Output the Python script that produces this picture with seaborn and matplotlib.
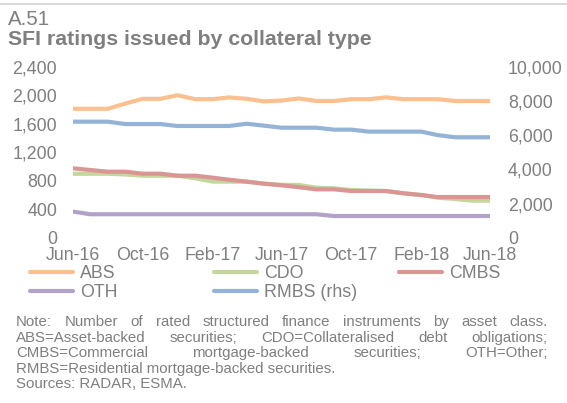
import numpy as np
import pandas as pd
import matplotlib
matplotlib.use("Agg")
import matplotlib.pyplot as plt
from matplotlib.lines import Line2D
import seaborn as sns

# monthly observations, Jun-16 .. Jun-18
months = pd.date_range("2016-06-01", "2018-06-01", freq="MS")

abs_ = [1810, 1810, 1810, 1885, 1950, 1950, 2000, 1945, 1945, 1970, 1950, 1915, 1925,
        1955, 1920, 1920, 1945, 1945, 1970, 1945, 1945, 1945, 1920, 1920, 1920]
cdo = [900, 900, 900, 890, 873, 873, 873, 836, 790, 790, 790, 762, 745,
       743, 705, 696, 672, 665, 658, 626, 602, 565, 546, 523, 523]
cmbs = [976, 953, 929, 929, 901, 901, 873, 873, 845, 817, 789, 761, 738,
        712, 682, 682, 658, 658, 658, 626, 602, 574, 574, 574, 574]
oth = [370, 333, 333, 333, 333, 333, 333, 333, 333, 333, 333, 333, 333,
       333, 333, 308, 308, 308, 308, 308, 308, 308, 308, 308, 308]
rmbs = [6790, 6790, 6790, 6650, 6650, 6650, 6540, 6540, 6540, 6540, 6670, 6560, 6440,
        6440, 6440, 6325, 6325, 6210, 6210, 6210, 6210, 6010, 5880, 5880, 5880]  # rhs

left_ticks = [0, 400, 800, 1200, 1600, 2000, 2400]
right_ticks = [0, 2000, 4000, 6000, 8000, 10000]

colors = {"ABS": "#FAC090", "CDO": "#C3D69B", "CMBS": "#D99694",
          "OTH": "#B3A2C7", "RMBS (rhs)": "#95B3D7"}
grey = "#7f7f7f"

note_lines = [
    ("Note: Number of rated structured finance instruments by asset class.", True),
    ("ABS=Asset-backed securities; CDO=Collateralised debt obligations;", True),
    ("CMBS=Commercial mortgage-backed securities; OTH=Other;", True),
    ("RMBS=Residential mortgage-backed securities.", False),
    ("Sources: RADAR, ESMA.", False),
]

sns.set_theme(style="white")
plt.rcParams["font.family"] = ["Liberation Sans", "DejaVu Sans"]

W, H = 567, 403
fig = plt.figure(figsize=(W / 100, H / 100), dpi=100)
ax = fig.add_axes([73 / W, 1 - 238 / H, (490 - 73) / W, (238 - 66.7) / H])
ax2 = ax.twinx()

line_kw = dict(linewidth=3.0, solid_capstyle="round", solid_joinstyle="round", legend=False)
for name, vals in [("ABS", abs_), ("CDO", cdo), ("CMBS", cmbs), ("OTH", oth)]:
    sns.lineplot(x=months, y=vals, ax=ax, color=colors[name], **line_kw)
sns.lineplot(x=months, y=rmbs, ax=ax2, color=colors["RMBS (rhs)"], **line_kw)

ax.set_ylim(0, 2400)
ax2.set_ylim(0, 10000)
ax.set_yticks(left_ticks, [f"{v:,}" for v in left_ticks])
ax2.set_yticks(right_ticks, [f"{v:,}" for v in right_ticks])
ax.set_xlim(months[0], months[-1])
ax.set_xticks(months[::4], [d.strftime("%b-%y") for d in months[::4]])

for a in (ax, ax2):
    a.set_xlabel("")
    a.set_ylabel("")
    for s in a.spines.values():
        s.set_visible(False)
    a.grid(False)
    a.tick_params(length=0, labelsize=12.8, labelcolor=grey)
ax.tick_params(axis="y", pad=11.5)
ax.tick_params(axis="x", pad=6.3)
ax2.tick_params(axis="y", pad=13)

# legend: three fixed-width columns like the original
def handle(name):
    return Line2D([], [], color=colors[name], linewidth=3.0, solid_capstyle="round")

columns = [(30, ["ABS", "OTH"]), (214, ["CDO", "RMBS (rhs)"]), (399, ["CMBS"])]
for x0, names in columns:
    fig.legend(handles=[handle(n) for n in names], labels=names, loc="upper left",
               bbox_to_anchor=(x0 / W, 1 - 265 / H), frameon=False, fontsize=12.8,
               handlelength=2.42, handletextpad=0.4, labelspacing=0.1,
               borderpad=0, borderaxespad=0, labelcolor=grey)

# header
fig.add_artist(Line2D([0, 1], [1 - 3.7 / H] * 2, transform=fig.transFigure,
                      color="#d9d9d9", linewidth=1.5))
fig.text(8 / W, 1 - 25 / H, "A.51", fontsize=14.8, color=grey, va="baseline")
fig.text(8 / W, 1 - 45 / H, "SFI ratings issued by collateral type", fontsize=15.3,
         fontweight="bold", color=grey, va="baseline")

# note, first lines justified
renderer = fig.canvas.get_renderer()
x_left, x_right = 16, 548
for i, (line, justify) in enumerate(note_lines):
    yb = 1 - (326 + 15.6 * i) / H
    if not justify:
        fig.text(x_left / W, yb, line, fontsize=10.8, color=grey, va="baseline")
        continue
    words = line.split(" ")
    texts = [fig.text(0, yb, w, fontsize=10.8, color=grey, va="baseline") for w in words]
    widths = [t.get_window_extent(renderer).width for t in texts]
    gap = (x_right - x_left - sum(widths)) / (len(words) - 1)
    x = x_left
    for t, w in zip(texts, widths):
        t.set_x(x / W)
        x += w + gap

fig.savefig("out.png", dpi=100)
